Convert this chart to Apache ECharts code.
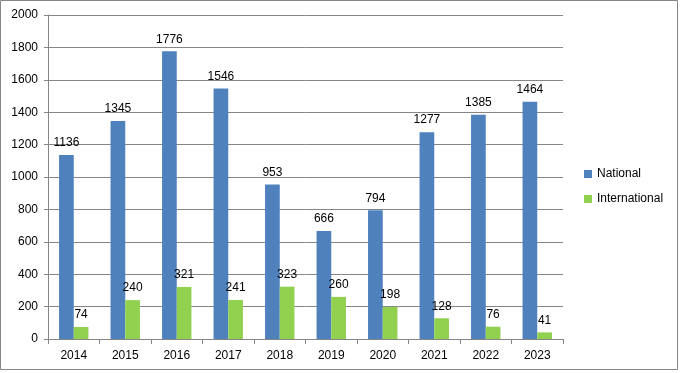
<!DOCTYPE html>
<html><head><meta charset="utf-8">
<script src="https://cdn.jsdelivr.net/npm/echarts@6/dist/echarts.min.js"></script>
<style>html,body{margin:0;padding:0;background:#fff}#c{width:680px;height:373px}</style>
</head><body><div id="c"></div>
<script>
const categories = ['2014','2015','2016','2017','2018','2019','2020','2021','2022','2023'];
const nationalValues = [1136,1345,1776,1546,953,666,794,1277,1385,1464];
const internationalValues = [74,240,321,241,323,260,198,128,76,41];
const seriesNames = ['National','International'];
const yTicks = {min:0, max:2000, interval:200};

const font = 'Liberation Sans, Arial, sans-serif';
const chart = echarts.init(document.getElementById('c'), null, {renderer:'canvas'});
const lbl = {show:true, position:'top', distance:6, color:'#000', fontFamily:font, fontSize:12};
chart.setOption({
  animation:false,
  backgroundColor:'#fff',
  graphic:[{type:'rect', shape:{x:0.5,y:0.5,width:677,height:369}, style:{fill:'none', stroke:'#868686', lineWidth:1}}],
  grid:{left:48, top:15, right:117, bottom:34, containLabel:false},
  legend:{orient:'vertical', left:584, top:167, padding:0, itemWidth:8, itemHeight:8, itemGap:11,
    textStyle:{fontFamily:font, fontSize:12, color:'#000', lineHeight:14}, icon:'rect', data:seriesNames},
  xAxis:{type:'category', data:categories,
    axisLine:{lineStyle:{color:'#868686'}},
    axisTick:{show:true, alignWithLabel:false, length:5, lineStyle:{color:'#868686'}},
    axisLabel:{color:'#000', fontFamily:font, fontSize:12, margin:11}},
  yAxis:{type:'value', min:yTicks.min, max:yTicks.max, interval:yTicks.interval,
    axisLine:{show:true, lineStyle:{color:'#868686'}},
    axisTick:{show:true, length:4, lineStyle:{color:'#868686'}},
    splitLine:{lineStyle:{color:'#868686'}},
    axisLabel:{color:'#000', fontFamily:font, fontSize:12, margin:10, formatter:v=>String(v)}},
  series:[
    {name:seriesNames[0], type:'bar', data:nationalValues, barWidth:14.7, barGap:'0%',
     itemStyle:{color:'#4f81bd'}, label:lbl},
    {name:seriesNames[1], type:'bar', data:internationalValues, barWidth:14.7,
     itemStyle:{color:'#92d050'}, label:lbl}
  ]
});
</script></body></html>
